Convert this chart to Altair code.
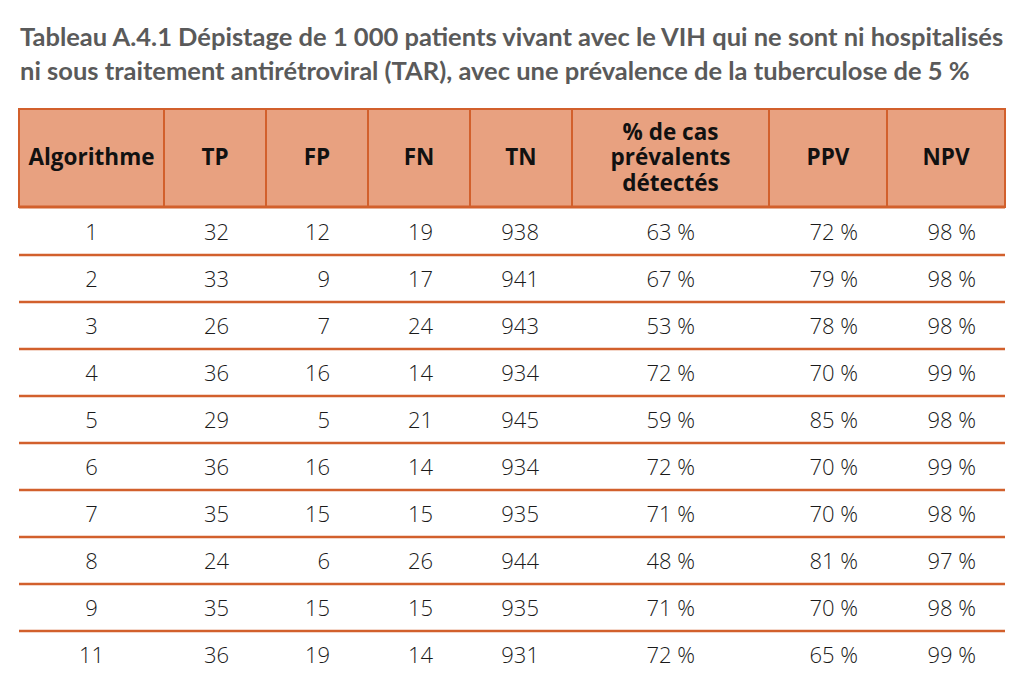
import altair as alt
import pandas as pd

# ---------------- data ----------------
title_lines = [
    "Tableau A.4.1 Dépistage de 1 000 patients vivant avec le VIH qui ne sont ni hospitalisés",
    "ni sous traitement antirétroviral (TAR), avec une prévalence de la tuberculose de 5 %",
]
headers = ["Algorithme", "TP", "FP", "FN", "TN", "% de cas\nprévalents\ndétectés", "PPV", "NPV"]
algorithmes = ["1", "2", "3", "4", "5", "6", "7", "8", "9", "11"]
tp = [32, 33, 26, 36, 29, 36, 35, 24, 35, 36]
fp = [12, 9, 7, 16, 5, 16, 15, 6, 15, 19]
fn = [19, 17, 24, 14, 21, 14, 15, 26, 15, 14]
tn = [938, 941, 943, 934, 945, 934, 935, 944, 935, 931]
pct_detectes = [63, 67, 53, 72, 59, 72, 71, 48, 71, 72]
ppv = [72, 79, 78, 70, 85, 70, 70, 81, 70, 65]
npv = [98, 98, 98, 99, 98, 99, 98, 97, 98, 99]

# ---------------- layout (not data) ----------------
W, H = 1008, 580
col_widths = [145, 102, 102, 102, 102, 197, 118, 118]
table_left = 11
edges = [table_left]
for w in col_widths:
    edges.append(edges[-1] + w)
# right-alignment inset of the values inside each column
right_inset = [None, 37, 38, 37, 33, 74, 29, 29]
head_top, head_bottom = 9, 107
head_lh = 25.5
row_h = 47
first_row_center = 133
first_sep = 155

LINE = "#D2602C"
HEAD_FILL = "#E8A180"

# ---------------- tables ----------------
n_lines = [h.count("\n") + 1 for h in headers]
head_df = pd.DataFrame({
    "label": headers,
    "x": edges[:-1],
    "x2": edges[1:],
    "xc": [(a + b) / 2 for a, b in zip(edges[:-1], edges[1:])],
    "y": [head_top] * len(headers),
    "y2": [head_bottom] * len(headers),
    "yc": [(head_top + head_bottom) / 2 - (n - 1) / 2 * head_lh for n in n_lines],
})

columns = [
    algorithmes,
    [str(v) for v in tp],
    [str(v) for v in fp],
    [str(v) for v in fn],
    [str(v) for v in tn],
    [f"{v} %" for v in pct_detectes],
    [f"{v} %" for v in ppv],
    [f"{v} %" for v in npv],
]
cells = []
for ci, col in enumerate(columns):
    for ri, val in enumerate(col):
        if ci == 0:
            xp = (edges[0] + edges[1]) / 2
        else:
            xp = edges[ci + 1] - right_inset[ci]
        cells.append({"col": ci, "row": ri, "text": val, "x": xp,
                      "y": first_row_center + ri * row_h})
cells_df = pd.DataFrame(cells)

seps_df = pd.DataFrame({
    "y": [first_sep + k * row_h for k in range(len(algorithmes) - 1)],
    "x": [edges[0]] * (len(algorithmes) - 1),
    "x2": [edges[-1]] * (len(algorithmes) - 1),
})
head_line_df = pd.DataFrame({"y": [head_bottom], "x": [edges[0]], "x2": [edges[-1]]})

xs = alt.Scale(domain=[0, W], range=[0, W], nice=False, zero=False)
ys = alt.Scale(domain=[0, H], range=[0, H], nice=False, zero=False)

head_rects = alt.Chart(head_df).mark_rect(
    fill=HEAD_FILL, stroke=LINE, strokeWidth=2
).encode(
    x=alt.X("x:Q", scale=xs, axis=None),
    x2="x2:Q",
    y=alt.Y("y:Q", scale=ys, axis=None),
    y2="y2:Q",
)

head_text = alt.Chart(head_df).mark_text(
    font="Open Sans", fontSize=22.5, fontWeight="bold", color="#111111",
    align="center", baseline="middle", lineBreak="\n", lineHeight=head_lh
).encode(
    x=alt.X("xc:Q", scale=xs, axis=None),
    y=alt.Y("yc:Q", scale=ys, axis=None),
    text="label:N",
)

head_line = alt.Chart(head_line_df).mark_rule(color=LINE, strokeWidth=3).encode(
    x=alt.X("x:Q", scale=xs, axis=None), x2="x2:Q",
    y=alt.Y("y:Q", scale=ys, axis=None),
)

sep_lines = alt.Chart(seps_df).mark_rule(color=LINE, strokeWidth=2.5).encode(
    x=alt.X("x:Q", scale=xs, axis=None), x2="x2:Q",
    y=alt.Y("y:Q", scale=ys, axis=None),
)

alg_text = alt.Chart(cells_df).transform_filter("datum.col == 0").mark_text(
    font="Open Sans", fontSize=22, fontWeight=300, color="#1a1a1a",
    align="center", baseline="middle"
).encode(
    x=alt.X("x:Q", scale=xs, axis=None),
    y=alt.Y("y:Q", scale=ys, axis=None),
    text="text:N",
)

val_text = alt.Chart(cells_df).transform_filter("datum.col > 0").mark_text(
    font="Open Sans", fontSize=22, fontWeight=300, color="#1a1a1a",
    align="right", baseline="middle"
).encode(
    x=alt.X("x:Q", scale=xs, axis=None),
    y=alt.Y("y:Q", scale=ys, axis=None),
    text="text:N",
)

chart = alt.layer(
    head_rects, head_text, head_line, sep_lines, alg_text, val_text
).properties(
    width=W, height=H,
    padding={"left": 0, "right": 0, "top": 17, "bottom": 0},
    title=alt.TitleParams(
        text=title_lines, anchor="start", font="Lato", fontSize=25.5,
        fontWeight="bold", color="#5A5A5A", lineHeight=34, offset=15, dx=12,
    ),
).configure_view(stroke=None)

chart.save("out.html", embed_options={"renderer": "svg", "actions": False})
